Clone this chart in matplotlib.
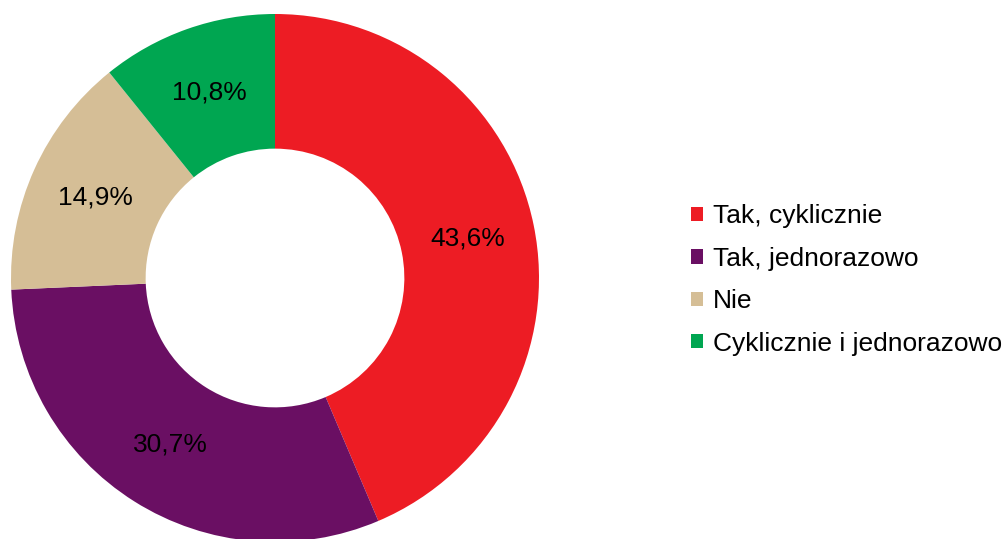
import matplotlib
matplotlib.use("Agg")
import matplotlib.pyplot as plt
from matplotlib.patches import Patch

plt.rcParams['font.family'] = ['Liberation Sans', 'DejaVu Sans']

# Data
labels = ['Tak, cyklicznie', 'Tak, jednorazowo', 'Nie', 'Cyklicznie i jednorazowo']
values = [43.6, 30.7, 14.9, 10.8]
colors = ['#ED1C24', '#6A0F63', '#D5BE96', '#00A651']

fig = plt.figure(figsize=(10.07, 5.39), dpi=100)
# axes sized so the ring fills the left part like the original
ax = fig.add_axes([11 / 1007, -3 / 539, 528 / 1007, 528 / 539])

wedges, texts, autotexts = ax.pie(
    values,
    colors=colors,
    startangle=90,
    counterclock=False,
    radius=1.0,
    wedgeprops=dict(width=0.51, linewidth=0),
    autopct=lambda p: f"{p:.1f}%".replace('.', ','),
    pctdistance=0.745,
    textprops=dict(fontsize=19, color='black'),
)
ax.set_xlim(-1, 1)
ax.set_ylim(-1, 1)
ax.set_aspect('equal')
ax.axis('off')

handles = [Patch(facecolor=c, edgecolor='none') for c in colors]
fig.legend(handles, labels, loc='center left', bbox_to_anchor=(667 / 1007, 1 - 280 / 539),
           frameon=False, fontsize=19, handlelength=0.46, handleheight=0.46,
           handletextpad=0.38, labelspacing=0.7)

fig.savefig('out.png', dpi=100)
